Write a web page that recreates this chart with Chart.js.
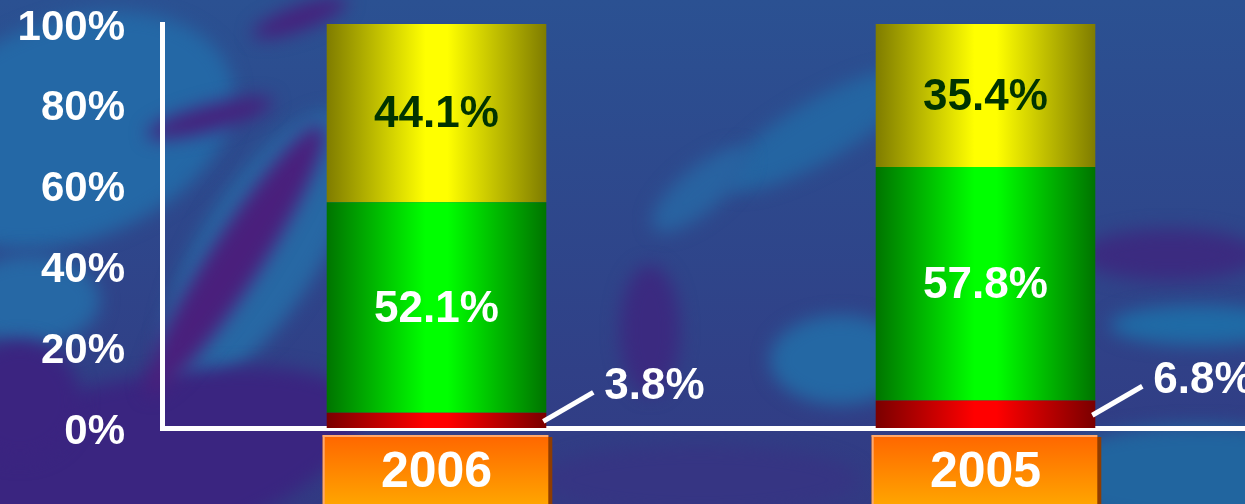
<!DOCTYPE html>
<html lang="en">
<head>
<meta charset="UTF-8">
<title>Share by year</title>
<script src="https://cdn.jsdelivr.net/npm/chart.js"></script>
<style>
    html, body { margin: 0; padding: 0; width: 1245px; height: 504px; overflow: hidden; background: #2e4d8f; }
    canvas { display: block; }
</style>
</head>
<body>
<canvas id="chart" width="1260" height="504"></canvas>
<script>
    const years = ['2006', '2005'];
    const redShare = [3.8, 6.8];
    const greenShare = [52.1, 57.8];
    const yellowShare = [44.1, 35.4];
    const yTicks = [0, 20, 40, 60, 80, 100];

    const BAR_FRACTION = 0.4;
    const FONT = '"Liberation Sans", Arial, sans-serif';

    // horizontal dark-bright-dark fill for each bar
    function barGradient(dark, light) {
        return ctx => {
            const chart = ctx.chart;
            const area = chart.chartArea;
            if (!area || ctx.type !== 'data' || !chart.scales.x) return light;
            const x = chart.scales.x.getPixelForValue(ctx.dataIndex);
            const half = area.width / years.length * BAR_FRACTION / 2;
            const g = chart.ctx.createLinearGradient(x - half, 0, x + half, 0);
            g.addColorStop(0, dark);
            g.addColorStop(0.45, light);
            g.addColorStop(0.55, light);
            g.addColorStop(1, dark);
            return g;
        };
    }

    const backdrop = {
        id: 'backdrop',
        beforeDraw(chart) {
            const c = chart.ctx, w = chart.width, h = chart.height;
            c.save();
            const base = c.createLinearGradient(0, 0, 0, h);
            base.addColorStop(0, '#2b5192');
            base.addColorStop(1, '#323a83');
            c.fillStyle = base;
            c.fillRect(0, 0, w, h);
            c.filter = 'blur(9px)';
            const blobs = [
                [70, 130, 170, 110, -20, '#2468a6'],
                [30, 300, 70, 45, 0, '#2668a5'],
                [260, 250, 60, 160, 32, '#2768a4'],
                [90, 480, 280, 90, -15, '#3a2580'],
                [20, 400, 60, 60, 0, '#3b2480'],
                [235, 260, 26, 160, 33, '#4a1f7c'],
                [210, 118, 65, 13, -15, '#46207c'],
                [300, 18, 50, 12, -20, '#46207c'],
                [820, 130, 110, 30, -30, '#2465a2'],
                [700, 190, 60, 22, -40, '#2863a1'],
                [650, 330, 30, 65, 0, '#3b2a80'],
                [840, 360, 70, 45, 0, '#2468a4'],
                [1170, 255, 90, 26, 0, '#3b2b80'],
                [1200, 325, 90, 20, 0, '#1f6ba6'],
                [1200, 475, 160, 50, 0, '#21659f'],
                [700, 480, 160, 35, 0, '#363583']
            ];
            blobs.forEach(([x, y, rx, ry, rot, col]) => {
                c.fillStyle = col;
                c.beginPath();
                c.ellipse(x, y, rx, ry, rot * Math.PI / 180, 0, Math.PI * 2);
                c.fill();
            });
            c.restore();
        }
    };

    const segmentLabels = {
        id: 'segmentLabels',
        afterDatasetsDraw(chart) {
            const c = chart.ctx;
            c.save();
            c.font = 'bold 44px ' + FONT;
            c.textBaseline = 'middle';
            chart.data.datasets.forEach((ds, di) => {
                chart.getDatasetMeta(di).data.forEach((bar, i) => {
                    const text = ds.data[i].toFixed(1) + '%';
                    const mid = (bar.y + bar.base) / 2;
                    c.fillStyle = ds.labelColor;
                    if (ds.labelOutside) {
                        const right = bar.x + bar.width / 2;
                        c.strokeStyle = '#ffffff';
                        c.lineWidth = 5;
                        c.beginPath();
                        c.moveTo(right - 3, mid + 1);
                        c.lineTo(right + 47, mid - 28);
                        c.stroke();
                        c.textAlign = 'left';
                        c.fillText(text, right + 58, mid - 33);
                    } else {
                        c.textAlign = 'center';
                        c.fillText(text, bar.x, mid + 2);
                    }
                });
            });
            c.restore();
        }
    };

    const yearBoxes = {
        id: 'yearBoxes',
        afterDraw(chart) {
            const c = chart.ctx;
            const top = chart.chartArea.bottom + 7;
            const bottom = chart.height + 2;
            c.save();
            chart.getDatasetMeta(0).data.forEach((bar, i) => {
                const l = bar.x - bar.width / 2 - 4;
                const r = bar.x + bar.width / 2 + 2;
                c.fillStyle = '#8f3c00';
                c.fillRect(l + 4, top + 2, r - l, bottom - top);
                const g = c.createLinearGradient(0, top, 0, bottom);
                g.addColorStop(0, '#ff6600');
                g.addColorStop(1, '#ffa600');
                c.fillStyle = g;
                c.fillRect(l, top, r - l, bottom - top);
                c.fillStyle = '#ffa86c';
                c.fillRect(l, top, r - l, 2);
                c.fillRect(l, top, 2, bottom - top);
                c.fillStyle = '#ffffff';
                c.font = 'bold 50px ' + FONT;
                c.textAlign = 'center';
                c.textBaseline = 'middle';
                c.fillText(years[i], bar.x, top + 38);
            });
            c.restore();
        }
    };

    new Chart(document.getElementById('chart'), {
        type: 'bar',
        data: {
            labels: years,
            datasets: [
                { label: 'red', data: redShare, backgroundColor: barGradient('#7a0000', '#ff0000'),
                  labelColor: '#ffffff', labelOutside: true },
                { label: 'green', data: greenShare, backgroundColor: barGradient('#007400', '#00ff00'),
                  labelColor: '#ffffff' },
                { label: 'yellow', data: yellowShare, backgroundColor: barGradient('#7f7c00', '#ffff00'),
                  labelColor: '#003300' }
            ]
        },
        options: {
            responsive: false,
            animation: false,
            categoryPercentage: 1,
            barPercentage: BAR_FRACTION,
            layout: { padding: { top: 24, left: 0, right: 0, bottom: 0 } },
            plugins: { legend: { display: false }, tooltip: { enabled: false } },
            scales: {
                x: {
                    stacked: true,
                    ticks: { display: false },
                    grid: { display: false, drawTicks: false },
                    border: { color: '#ffffff', width: 5 },
                    afterFit: s => { s.height = 76; }
                },
                y: {
                    stacked: true,
                    min: 0,
                    max: 100,
                    afterBuildTicks: s => { s.ticks = yTicks.map(v => ({ value: v })); },
                    ticks: {
                        color: '#ffffff',
                        padding: 37,
                        // blank first line nudges the label a few px below its tick
                        font: { family: FONT, size: 42, weight: 'bold', lineHeight: 0.19 },
                        callback: v => ['', v + '%']
                    },
                    grid: { display: false, drawTicks: false },
                    border: { color: '#ffffff', width: 5 },
                    afterFit: s => { s.width = 162; s.paddingTop = 0; s.paddingBottom = 0; }
                }
            }
        },
        plugins: [backdrop, segmentLabels, yearBoxes]
    });
</script>
</body>
</html>
